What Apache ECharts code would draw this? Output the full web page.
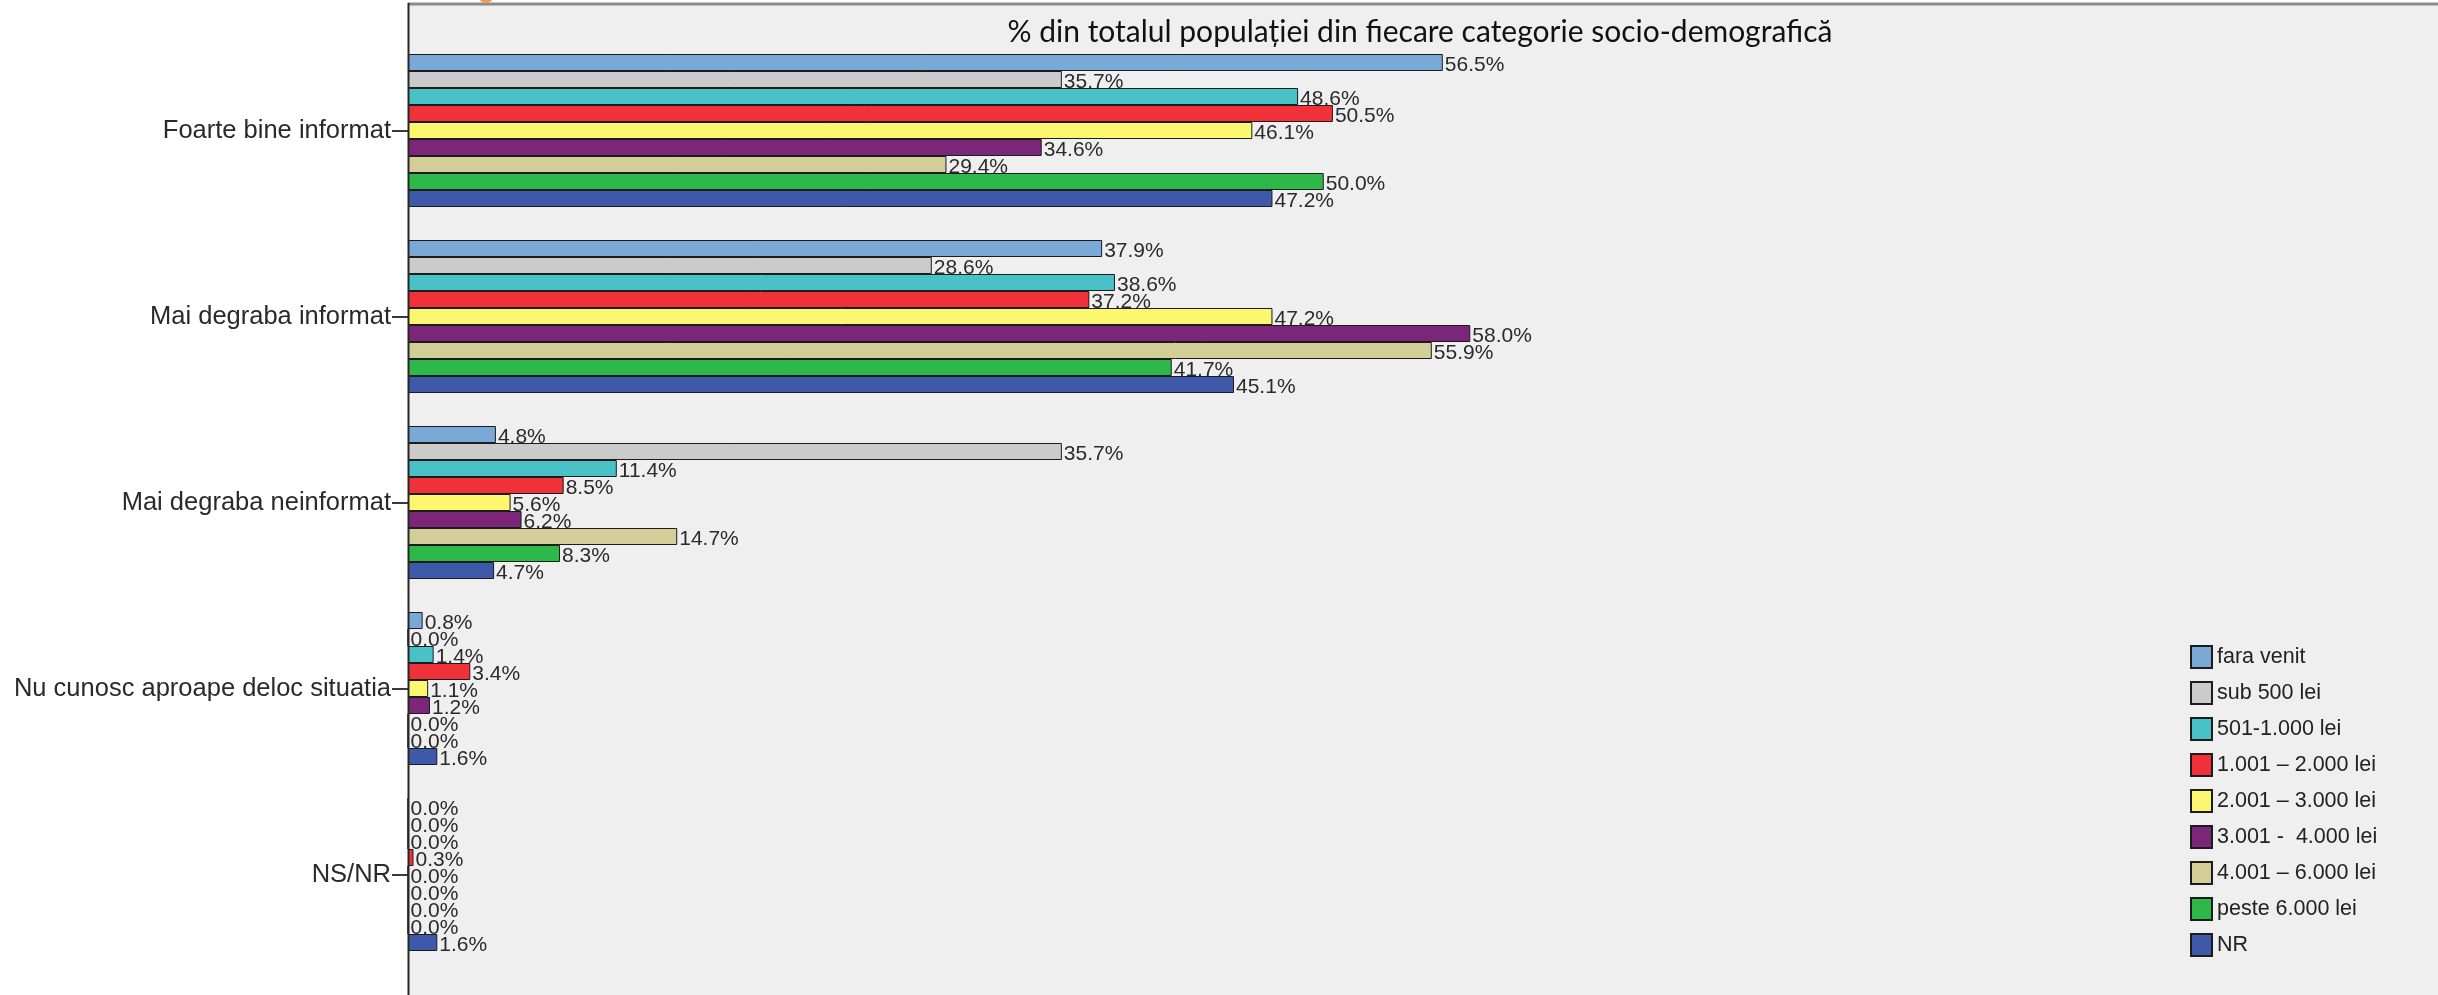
<!DOCTYPE html>
<html>
<head>
<meta charset="utf-8">
<script src="https://cdn.jsdelivr.net/npm/echarts@6/dist/echarts.min.js"></script>
<style>
html,body{margin:0;padding:0;background:#ffffff;}
#chart{width:2438px;height:995px;}
</style>
</head>
<body>
<div id="chart"></div>
<script>
const categories = ['Foarte bine informat', 'Mai degraba informat', 'Mai degraba neinformat', 'Nu cunosc aproape deloc situatia', 'NS/NR'];
const seriesNames = ['fara venit', 'sub 500 lei', '501-1.000 lei', '1.001 \u2013 2.000 lei', '2.001 \u2013 3.000 lei', '3.001 -  4.000 lei', '4.001 \u2013 6.000 lei', 'peste 6.000 lei', 'NR'];
const faraVenit   = [56.5, 37.9, 4.8, 0.8, 0.0];
const sub500      = [35.7, 28.6, 35.7, 0.0, 0.0];
const v501_1000   = [48.6, 38.6, 11.4, 1.4, 0.0];
const v1001_2000  = [50.5, 37.2, 8.5, 3.4, 0.3];
const v2001_3000  = [46.1, 47.2, 5.6, 1.1, 0.0];
const v3001_4000  = [34.6, 58.0, 6.2, 1.2, 0.0];
const v4001_6000  = [29.4, 55.9, 14.7, 0.0, 0.0];
const peste6000   = [50.0, 41.7, 8.3, 0.0, 0.0];
const nr          = [47.2, 45.1, 4.7, 1.6, 1.6];
const seriesValues = [faraVenit, sub500, v501_1000, v1001_2000, v2001_3000, v3001_4000, v4001_6000, peste6000, nr];
const colors = ['#7BA9D7', '#CBCBCB', '#48C2C6', '#F0313A', '#FBF76F', '#7B2679', '#D3CE98', '#2EB84A', '#3E58AA'];
const titleText = '% din totalul popula\u021biei din fiecare categorie socio-demografic\u0103';

const chart = echarts.init(document.getElementById('chart'), null, {renderer: 'canvas'});
const font = '"Liberation Sans", Arial, sans-serif';

const series = seriesNames.map((name, i) => ({
  name: name,
  type: 'bar',
  data: seriesValues[i],
  barWidth: 17,
  barGap: '0%',
  itemStyle: {color: colors[i], borderColor: '#1c1c1c', borderWidth: 1},
  label: {
    show: true,
    position: 'right',
    distance: 2,
    offset: [0, 3],
    formatter: p => p.value.toFixed(1) + '%',
    color: '#2a2a2a',
    fontFamily: font,
    fontSize: 21
  },
  z: 2
}));

const option = {
  backgroundColor: '#ffffff',
  animation: false,
  color: colors,
  grid: {left: 408, top: 37.5, width: 1831.5, height: 930, containLabel: false},
  xAxis: {
    type: 'value', min: 0, max: 100,
    show: false
  },
  yAxis: {
    type: 'category',
    data: categories,
    inverse: true,
    axisLine: {show: false},
    axisTick: {show: true, alignWithLabel: true, length: 16, lineStyle: {color: '#3a3a3a', width: 2}},
    axisLabel: {margin: 17, color: '#2a2a2a', fontFamily: font, fontSize: 25.5}
  },
  legend: {
    orient: 'vertical',
    left: 2190,
    top: 645,
    itemWidth: 21,
    itemHeight: 22,
    itemGap: 12,
    icon: 'rect',
    padding: 0,
    textStyle: {color: '#222', fontFamily: font, fontSize: 21.5, lineHeight: 24},
    data: seriesNames
  },
  graphic: [
    {type: 'rect', z: -10, silent: true, shape: {x: 408, y: 4, width: 2100, height: 1000}, style: {fill: '#efefef'}},
    {type: 'line', z: 10, silent: true, shape: {x1: 408, y1: 4, x2: 2438, y2: 4}, style: {stroke: '#8c8c8c', lineWidth: 3}},
    {type: 'line', z: 10, silent: true, shape: {x1: 408.5, y1: 3, x2: 408.5, y2: 995}, style: {stroke: '#262626', lineWidth: 2}},
    {type: 'circle', z: 10, silent: true, shape: {cx: 486, cy: -5, r: 8}, style: {fill: '#f49a4c'}},
    {type: 'text', z: 10, silent: true, style: {text: titleText, x: 1420, y: 32, textAlign: 'center', textVerticalAlign: 'middle', font: '30px Lato, "Open Sans", sans-serif', fill: '#111'}}
  ],
  series: series
};
chart.setOption(option);
</script>
</body>
</html>
